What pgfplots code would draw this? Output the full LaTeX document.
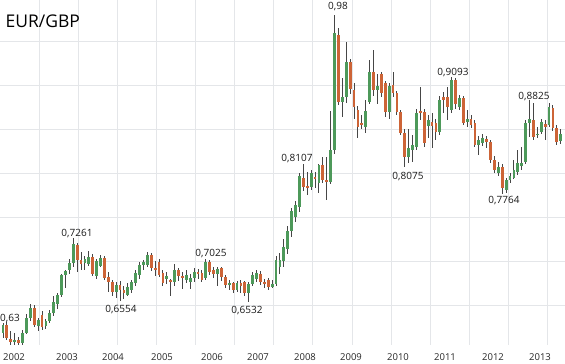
\documentclass[border=0pt]{standalone}
\usepackage{pgfplots}
\pgfplotsset{compat=1.18}
\usepackage{pgfplotstable}
\usepackage{fontspec}
\setmainfont{Open Sans}
\definecolor{upc}{RGB}{77,153,90}
\definecolor{dnc}{RGB}{205,100,55}
\definecolor{wickc}{RGB}{70,70,70}
\definecolor{gridc}{RGB}{228,230,233}
\pgfplotstableread{
i o h l c d
0 0.619 0.630 0.613 0.628 1
1 0.628 0.631 0.611 0.613 0
2 0.612 0.621 0.604 0.608 0
3 0.608 0.618 0.605 0.611 1
4 0.611 0.614 0.604 0.607 0
5 0.607 0.622 0.605 0.619 1
6 0.619 0.640 0.617 0.636 1
7 0.636 0.651 0.632 0.647 1
8 0.647 0.650 0.625 0.628 0
9 0.627 0.636 0.621 0.633 1
10 0.639 0.644 0.622 0.625 0
11 0.626 0.634 0.623 0.632 1
12 0.632 0.645 0.630 0.641 1
13 0.641 0.660 0.638 0.654 1
14 0.652 0.664 0.646 0.662 1
15 0.662 0.686 0.659 0.684 1
16 0.684 0.690 0.670 0.689 1
17 0.690 0.702 0.686 0.698 1
18 0.698 0.7261 0.694 0.720 1
19 0.718 0.721 0.688 0.701 0
20 0.701 0.711 0.690 0.697 0
21 0.698 0.706 0.690 0.702 1
22 0.697 0.712 0.695 0.705 1
23 0.705 0.708 0.683 0.685 0
24 0.683 0.703 0.680 0.700 1
25 0.695 0.707 0.693 0.704 1
26 0.704 0.706 0.679 0.681 0
27 0.682 0.688 0.665 0.676 0
28 0.676 0.679 0.660 0.665 0
29 0.665 0.676 0.658 0.673 1
30 0.673 0.678 0.6554 0.667 0
31 0.667 0.672 0.657 0.664 0
32 0.662 0.675 0.660 0.671 1
33 0.667 0.679 0.664 0.676 1
34 0.675 0.690 0.672 0.687 1
35 0.684 0.699 0.680 0.696 1
36 0.696 0.701 0.690 0.699 1
37 0.696 0.710 0.694 0.707 1
38 0.707 0.709 0.689 0.692 0
39 0.692 0.700 0.683 0.690 0
40 0.699 0.703 0.682 0.684 0
41 0.687 0.690 0.672 0.675 0
42 0.680 0.688 0.674 0.683 1
43 0.679 0.680 0.660 0.677 0
44 0.676 0.697 0.672 0.690 1
45 0.690 0.692 0.678 0.683 0
46 0.683 0.688 0.668 0.681 0
47 0.679 0.690 0.675 0.684 1
48 0.676 0.686 0.668 0.681 1
49 0.681 0.692 0.677 0.688 1
50 0.688 0.691 0.680 0.686 0
51 0.687 0.690 0.676 0.679 0
52 0.681 0.7025 0.679 0.699 1
53 0.699 0.701 0.684 0.688 0
54 0.690 0.693 0.681 0.685 0
55 0.685 0.694 0.672 0.691 1
56 0.692 0.694 0.678 0.682 0
57 0.682 0.684 0.670 0.673 0
58 0.673 0.679 0.667 0.675 1
59 0.675 0.677 0.664 0.667 0
60 0.667 0.678 0.665 0.675 1
61 0.675 0.679 0.664 0.672 0
62 0.676 0.678 0.660 0.664 0
63 0.664 0.676 0.6532 0.674 1
64 0.674 0.688 0.672 0.684 1
65 0.680 0.690 0.677 0.687 1
66 0.686 0.689 0.673 0.676 0
67 0.676 0.680 0.670 0.674 0
68 0.679 0.681 0.667 0.671 0
69 0.671 0.679 0.670 0.674 1
70 0.674 0.706 0.672 0.701 1
71 0.694 0.709 0.686 0.701 1
72 0.700 0.725 0.694 0.716 1
73 0.714 0.740 0.708 0.734 1
74 0.734 0.760 0.728 0.757 1
75 0.750 0.768 0.745 0.764 1
76 0.762 0.800 0.756 0.797 1
77 0.795 0.8107 0.780 0.784 0
78 0.785 0.801 0.775 0.783 0
79 0.784 0.804 0.781 0.800 1
80 0.796 0.801 0.783 0.793 0
81 0.789 0.810 0.777 0.809 1
82 0.809 0.818 0.789 0.792 0
83 0.792 0.818 0.770 0.790 0
84 0.790 0.870 0.788 0.826 1
85 0.826 0.980 0.822 0.959 1
86 0.957 0.965 0.877 0.881 0
87 0.881 0.908 0.864 0.887 1
88 0.886 0.949 0.880 0.926 1
89 0.926 0.930 0.890 0.896 0
90 0.894 0.902 0.862 0.875 0
91 0.872 0.876 0.840 0.852 0
92 0.857 0.866 0.850 0.855 0
93 0.852 0.883 0.846 0.871 1
94 0.881 0.928 0.878 0.915 1
95 0.915 0.940 0.888 0.894 0
96 0.894 0.913 0.878 0.899 1
97 0.913 0.915 0.886 0.891 0
98 0.902 0.905 0.864 0.869 0
99 0.869 0.902 0.862 0.899 1
100 0.900 0.915 0.887 0.891 0
101 0.891 0.893 0.866 0.869 0
102 0.869 0.872 0.843 0.846 0
103 0.846 0.850 0.8075 0.818 0
104 0.818 0.850 0.812 0.829 1
105 0.826 0.843 0.813 0.832 1
106 0.830 0.873 0.826 0.868 1
107 0.870 0.898 0.860 0.868 0
108 0.869 0.873 0.830 0.834 0
109 0.854 0.866 0.840 0.860 1
110 0.858 0.868 0.829 0.853 0
111 0.857 0.862 0.838 0.847 0
112 0.847 0.888 0.843 0.883 1
113 0.886 0.892 0.868 0.883 0
114 0.886 0.898 0.860 0.875 0
115 0.872 0.9093 0.868 0.906 1
116 0.906 0.908 0.873 0.878 0
117 0.875 0.889 0.872 0.885 1
118 0.885 0.888 0.855 0.857 0
119 0.858 0.872 0.852 0.861 1
120 0.862 0.866 0.851 0.855 0
121 0.857 0.860 0.830 0.832 0
122 0.832 0.842 0.821 0.838 1
123 0.834 0.845 0.831 0.840 1
124 0.839 0.842 0.829 0.835 0
125 0.835 0.838 0.812 0.815 0
126 0.815 0.820 0.800 0.804 0
127 0.800 0.813 0.797 0.807 1
128 0.807 0.810 0.7764 0.783 0
129 0.781 0.795 0.778 0.792 1
130 0.792 0.800 0.789 0.797 1
131 0.795 0.815 0.793 0.804 1
132 0.801 0.826 0.798 0.811 1
133 0.808 0.830 0.804 0.812 1
134 0.813 0.860 0.810 0.857 1
135 0.857 0.8825 0.841 0.861 1
136 0.860 0.880 0.838 0.841 0
137 0.843 0.852 0.840 0.845 1
138 0.847 0.862 0.844 0.858 1
139 0.856 0.860 0.838 0.852 0
140 0.855 0.880 0.852 0.875 1
141 0.874 0.877 0.848 0.851 0
142 0.851 0.855 0.832 0.835 0
143 0.836 0.850 0.833 0.845 1
}\eurgbp
\begin{document}
\begin{tikzpicture}
\begin{axis}[at={(0pt,0pt)}, anchor=south west, scale only axis,
  width=565pt, height=345pt,
  xmin=-0.769, xmax=144.1, ymin=0.60494, ymax=0.99654,
  axis line style={draw=none}, major tick length=0pt,
  clip marker paths=true,
  xtick={9.26,19.28,29.31,39.33,49.36,59.38,69.41,79.44,89.46,99.49,109.51,119.54,129.56,139.59},
  xticklabels={},
  ytick={0.65,0.70,0.75,0.80,0.85,0.90,0.95}, yticklabels={},
  grid=major, major grid style={draw=gridc, line width=0.8pt},
]
\addplot[draw=none, mark=none, error bars/.cd, y dir=both, y explicit, error mark=none,
  error bar style={draw=wickc, line width=0.85pt}]
  table[x=i, y expr={(\thisrow{h}+\thisrow{l})/2}, y error expr={(\thisrow{h}-\thisrow{l})/2}] {\eurgbp};
\addplot[draw=none, mark=none, error bars/.cd, y dir=both, y explicit, error mark=none,
  error bar style={draw=upc, line width=2.8pt}]
  table[x=i, y expr={(\thisrow{o}+\thisrow{c})/2}, y error expr={\thisrow{d}*abs(\thisrow{c}-\thisrow{o})/2}] {\eurgbp};
\addplot[draw=none, mark=none, error bars/.cd, y dir=both, y explicit, error mark=none,
  error bar style={draw=dnc, line width=2.8pt}]
  table[x=i, y expr={(\thisrow{o}+\thisrow{c})/2}, y error expr={(1-\thisrow{d})*abs(\thisrow{c}-\thisrow{o})/2}] {\eurgbp};
\end{axis}
\begin{scope}[every node/.style={inner sep=0pt, font=\fontsize{10}{12}\selectfont, text=black!90}]
\node[anchor=base west] at (0pt,23pt) {0,63};
\node[anchor=base] at (77pt,108pt) {0,7261};
\node[anchor=base] at (121pt,32pt) {0,6554};
\node[anchor=base] at (211pt,88pt) {0,7025};
\node[anchor=base] at (247pt,31pt) {0,6532};
\node[anchor=base] at (297pt,183pt) {0,8107};
\node[anchor=base] at (338pt,335pt) {0,98};
\node[anchor=base] at (408pt,165pt) {0,8075};
\node[anchor=base] at (453pt,269pt) {0,9093};
\node[anchor=base] at (534pt,245pt) {0,8825};
\node[anchor=base] at (504pt,141pt) {0,7764};
\end{scope}
\begin{scope}[every node/.style={inner sep=0pt, anchor=base, font=\fontsize{9.5}{11}\selectfont, text=black!85}]
\node at (14pt,-16pt) {2002};
\node at (67pt,-16pt) {2003};
\node at (113pt,-16pt) {2004};
\node at (162pt,-16pt) {2005};
\node at (212pt,-16pt) {2006};
\node at (258pt,-16pt) {2007};
\node at (305pt,-16pt) {2008};
\node at (351pt,-16pt) {2009};
\node at (398pt,-16pt) {2010};
\node at (445pt,-16pt) {2011};
\node at (493pt,-16pt) {2012};
\node at (540pt,-16pt) {2013};
\end{scope}
\node[anchor=base west, inner sep=0pt, font=\fontsize{17.5}{20}\selectfont] at (5.5pt,317.7pt) {EUR/GBP};
\pgfresetboundingbox
\useasboundingbox (0pt,-19pt) rectangle (565pt,345pt);
\end{tikzpicture}
\end{document}
